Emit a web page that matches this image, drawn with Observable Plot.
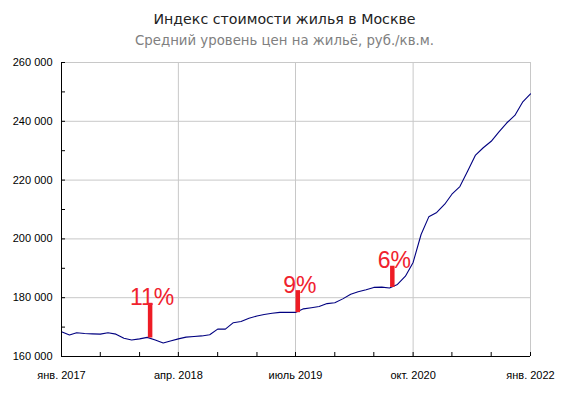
<!DOCTYPE html>
<html>
<head>
<meta charset="utf-8">
<script src="https://cdn.jsdelivr.net/npm/d3@7"></script>
<script src="https://cdn.jsdelivr.net/npm/@observablehq/plot@0.6"></script>
<style>
  body { margin: 0; background: #fff; width: 569px; }
  #title { font: 14.2px "DejaVu Sans", sans-serif; color: #222; text-align: center; line-height: 20px; padding-top: 9px; }
  #subtitle { font: 13.3px "DejaVu Sans", sans-serif; color: #808080; text-align: center; line-height: 20px; margin-top: 2px; }
  #chart { height: 343px; }
</style>
</head>
<body>
<div id="title">Индекс стоимости жилья в Москве</div>
<div id="subtitle">Средний уровень цен на жильё, руб./кв.м.</div>
<div id="chart"></div>
<script>
// Monthly average price, rub per sq.m., Jan 2017 .. Jan 2022
const values = [
  168400, 167300, 168100, 167800, 167700, 167600, 168100, 167600, 166200, 165600,
  166000, 166500, 165600, 164600, 165300, 166000, 166600, 166800, 167000, 167400,
  169300, 169300, 171500, 171900, 173000, 173800, 174300, 174700, 175000, 175000,
  175000, 176200, 176600, 177000, 178000, 178300, 179600, 181200, 182000, 182700,
  183500, 183600, 183300, 184500, 187300, 192000, 201500, 207500, 209000, 211800,
  215200, 217800, 223000, 228500, 231000, 233200, 236500, 239500, 242000, 246500,
  249300
];
const startDate = new Date(Date.UTC(2017, 0, 1));
const dates = values.map((_, i) => d3.utcMonth.offset(startDate, i));

// Annotations
const noteDates = ["2017-12-12", "2019-07-10", "2020-07-12"].map(d => new Date(d));
const noteLow = [166300, 174900, 183500];
const noteHigh = [178100, 182400, 190700];
const noteLabels = ["11%", "9%", "6%"];

// Axis ticks
const yTicks = d3.range(160000, 260001, 10000);
const yLabelTicks = d3.range(160000, 260001, 20000);
const yGrid = d3.range(180000, 260001, 20000);
const xTicks = d3.range(0, 61, 5).map(i => d3.utcMonth.offset(startDate, i));
const xLabelDates = [0, 15, 30, 45, 60].map(i => d3.utcMonth.offset(startDate, i));
const xLabels = ["янв. 2017", "апр. 2018", "июль 2019", "окт. 2020", "янв. 2022"];

const series = dates.map((d, i) => ({date: d, value: values[i]}));
const notes = noteDates.map((d, i) => ({date: d, low: noteLow[i], high: noteHigh[i], label: noteLabels[i]}));

const W = 569, H = 343;
const mL = 61, mR = 39, mT = 11, mB = 38;
const plotW = W - mL - mR, plotH = H - mT - mB;

const fmt = v => d3.format(",")(v).replace(/,/g, " ");

const chart = Plot.plot({
  width: W,
  height: H,
  marginLeft: mL,
  marginRight: mR,
  marginTop: mT,
  marginBottom: mB,
  style: {fontFamily: "'Liberation Sans', Arial, sans-serif", fontSize: "11px", color: "#000", background: "#fff"},
  x: {type: "utc", domain: [dates[0], dates[dates.length - 1]]},
  y: {domain: [160000, 260000]},
  marks: [
    Plot.ruleY(yGrid, {stroke: "#c8c8c8", strokeWidth: 1}),
    Plot.ruleX(xLabelDates.slice(1), {stroke: "#c8c8c8", strokeWidth: 1}),
    Plot.line(series, {x: "date", y: "value", stroke: "#000080", strokeWidth: 1.1}),
    Plot.ruleX(notes, {x: "date", y1: "low", y2: "high", stroke: "#ee1c25", strokeWidth: 4.5}),
    Plot.text(notes, {x: "date", y: "high", text: "label", fill: "#f0222e", fontSize: 23, lineAnchor: "bottom", dx: 2, dy: 2, fontFamily: "'Liberation Sans', Arial, sans-serif"}),
    Plot.tickY(yTicks, {y: d => d, stroke: "#000", insetRight: plotW - 4}),
    Plot.tickX(xTicks, {x: d => d, stroke: "#000", insetTop: plotH - 4}),
    Plot.ruleX([dates[0]], {stroke: "#000", strokeWidth: 1}),
    Plot.ruleY([160000], {stroke: "#000", strokeWidth: 1}),
    Plot.axisY(yLabelTicks, {tickSize: 0, tickPadding: 9, tickFormat: fmt, label: null}),
    Plot.axisX(xLabelDates, {tickSize: 0, tickPadding: 15, tickFormat: (d, i) => xLabels[i], label: null})
  ]
});
document.getElementById("chart").appendChild(chart);
</script>
</body>
</html>
